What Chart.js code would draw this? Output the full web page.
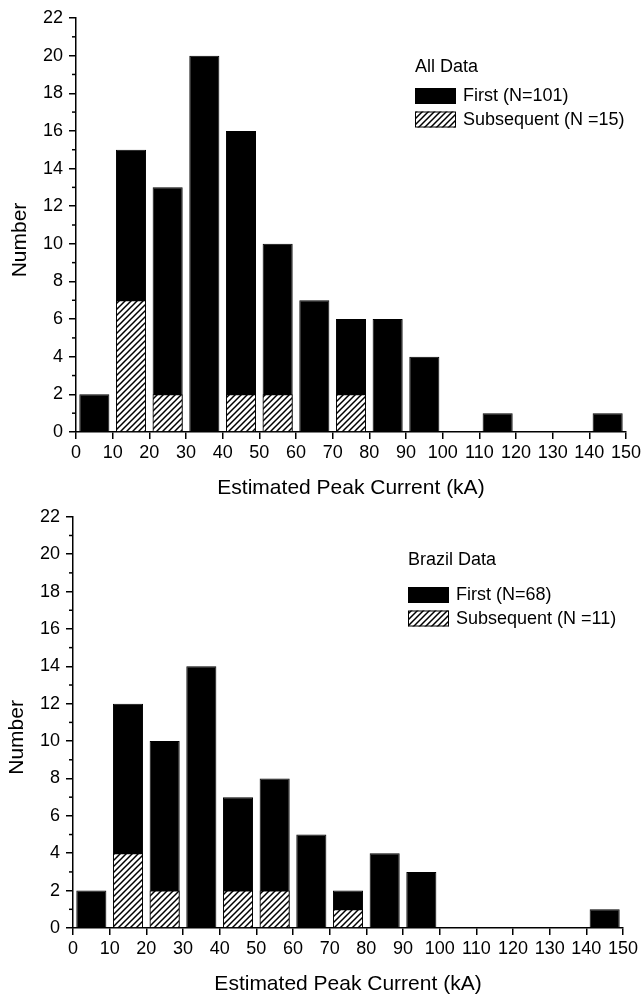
<!DOCTYPE html>
<html>
<head>
<meta charset="utf-8">
<script src="https://cdn.jsdelivr.net/npm/chart.js@4.4.0/dist/chart.umd.min.js"></script>
<style>
  body { margin: 0; background: #fff; }
  canvas { display: block; }
</style>
</head>
<body>
<canvas id="allChart" width="644" height="500"></canvas>
<canvas id="brazilChart" width="644" height="498"></canvas>
<script>
// centres of the 10 kA classes
const binCenters = [5, 15, 25, 35, 45, 55, 65, 75, 85, 95, 105, 115, 125, 135, 145];

// All data
const allFirst = [2, 15, 13, 20, 16, 10, 7, 6, 6, 4, 0, 1, 0, 0, 1];
const allSubsequent = [0, 7, 2, 0, 2, 2, 0, 2, 0, 0, 0, 0, 0, 0, 0];

// Brazil data
const brazilFirst = [2, 12, 10, 14, 7, 8, 5, 2, 4, 3, 0, 0, 0, 0, 1];
const brazilSubsequent = [0, 4, 2, 0, 2, 2, 0, 1, 0, 0, 0, 0, 0, 0, 0];

const xTicks = [0, 10, 20, 30, 40, 50, 60, 70, 80, 90, 100, 110, 120, 130, 140, 150];
const yTicks = [0, 2, 4, 6, 8, 10, 12, 14, 16, 18, 20, 22];
const yMinorTicks = [1, 3, 5, 7, 9, 11, 13, 15, 17, 19, 21];

const FONT = '"Liberation Sans", Arial, sans-serif';
Chart.defaults.font.family = FONT;
Chart.defaults.color = '#000';

// hatching for the subsequent strokes
function makeHatch() {
    const c = document.createElement('canvas');
    c.width = 6; c.height = 6;
    const g = c.getContext('2d');
    g.fillStyle = '#fff';
    g.fillRect(0, 0, 6, 6);
    g.strokeStyle = '#000';
    g.lineWidth = 1.5;
    g.beginPath();
    g.moveTo(0, 6); g.lineTo(6, 0);
    g.moveTo(-1, 1); g.lineTo(1, -1);
    g.moveTo(5, 7); g.lineTo(7, 5);
    g.stroke();
    return g.createPattern(c, 'repeat');
}
const hatch = makeHatch();

// minor ticks, axis titles and the legend box
const decorations = {
    id: 'decorations',
    afterDraw(chart, args, opts) {
        const { ctx, chartArea: a, scales: { y } } = chart;
        ctx.save();
        ctx.strokeStyle = '#000';
        ctx.lineWidth = 1.5;
        yMinorTicks.forEach(v => {
            const py = y.getPixelForValue(v);
            ctx.beginPath();
            ctx.moveTo(a.left - 4, py);
            ctx.lineTo(a.left, py);
            ctx.stroke();
        });

        ctx.fillStyle = '#000';
        ctx.font = '21px ' + FONT;
        ctx.textAlign = 'center';
        ctx.textBaseline = 'middle';
        ctx.fillText('Estimated Peak Current (kA)', (a.left + a.right) / 2, a.bottom + 56);
        ctx.save();
        ctx.translate(a.left - 56, (a.top + a.bottom) / 2 + 15);
        ctx.rotate(-Math.PI / 2);
        ctx.fillText('Number', 0, 0);
        ctx.restore();

        // legend
        ctx.font = '18px ' + FONT;
        ctx.textAlign = 'left';
        ctx.fillText(opts.title, opts.x, opts.titleY);
        chart.data.datasets.forEach((ds, i) => {
            const top = opts.itemsY + i * 23.5;
            ctx.fillStyle = ds.backgroundColor;
            ctx.fillRect(opts.x, top, 41, 16);
            ctx.lineWidth = 1;
            ctx.strokeRect(opts.x + 0.5, top + 0.5, 40, 15);
            ctx.fillStyle = '#000';
            ctx.fillText(ds.label, opts.x + 48, top + 8.5);
        });
        ctx.restore();
    }
};

function histogram(id, first, subsequent, nFirst, nSub, lay) {
    const pts = arr => arr.map((v, i) => ({ x: binCenters[i], y: v }));
    return new Chart(document.getElementById(id), {
        type: 'bar',
        data: {
            datasets: [
                {
                    label: 'First (N=' + nFirst + ')',
                    data: pts(first),
                    backgroundColor: '#000',
                    borderColor: '#000',
                    borderWidth: 1,
                    order: 2,
                },
                {
                    label: 'Subsequent (N =' + nSub + ')',
                    data: pts(subsequent),
                    backgroundColor: hatch,
                    borderColor: '#000',
                    borderWidth: 1,
                    order: 1,
                },
            ],
        },
        options: {
            responsive: false,
            devicePixelRatio: 1,
            animation: false,
            grouped: false,
            barPercentage: 0.82,
            categoryPercentage: 1,
            layout: { padding: { top: lay.top, right: lay.right, left: 0, bottom: 0 } },
            plugins: {
                legend: { display: false },
                tooltip: { enabled: false },
                decorations: lay.legend,
            },
            scales: {
                x: {
                    type: 'linear',
                    min: 0,
                    max: 150,
                    offset: false,
                    afterBuildTicks: s => { s.ticks = xTicks.map(v => ({ value: v })); },
                    ticks: { font: { size: 18 }, padding: 3, maxRotation: 0, autoSkip: false },
                    grid: { offset: false, drawOnChartArea: false, color: '#000', lineWidth: 1.5, tickLength: 7 },
                    border: { color: '#000', width: 1.5 },
                    afterFit: s => { s.height = lay.xHeight; },
                },
                y: {
                    min: 0,
                    max: 22,
                    afterBuildTicks: s => { s.ticks = yTicks.map(v => ({ value: v })); },
                    ticks: { font: { size: 18 }, padding: 6 },
                    grid: { drawOnChartArea: false, color: '#000', lineWidth: 1.5, tickLength: 7 },
                    border: { color: '#000', width: 1.5 },
                    afterFit: s => { s.width = lay.left; },
                },
            },
        },
        plugins: [decorations],
    });
}

histogram('allChart', allFirst, allSubsequent, 101, 15, {
    top: 18, right: 16, left: 76, xHeight: 68,
    legend: { title: 'All Data', x: 415, titleY: 67, itemsY: 88 },
});
histogram('brazilChart', brazilFirst, brazilSubsequent, 68, 11, {
    top: 14, right: 21, left: 73, xHeight: 70,
    legend: { title: 'Brazil Data', x: 408, titleY: 60, itemsY: 87 },
});
</script>
</body>
</html>
